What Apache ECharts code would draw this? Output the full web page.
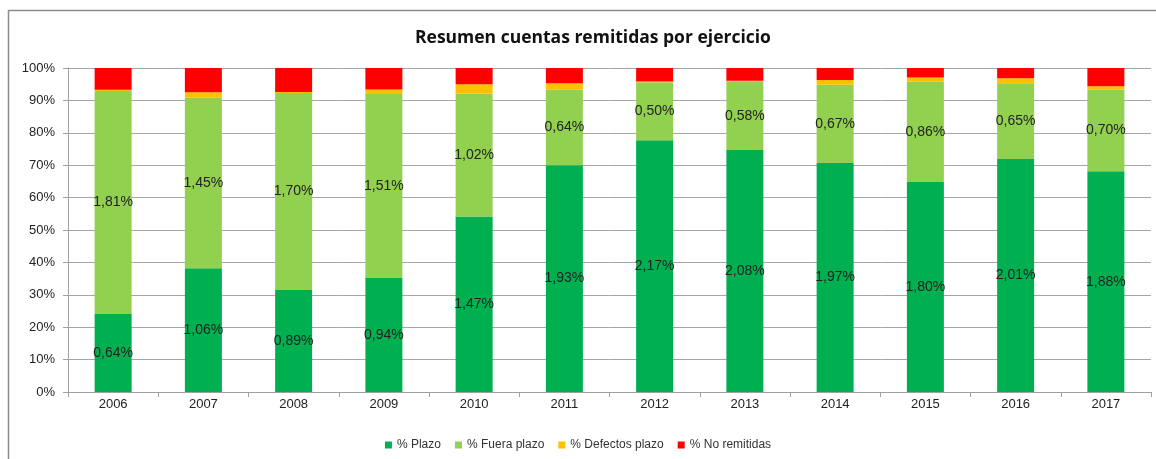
<!DOCTYPE html>
<html><head><meta charset="utf-8">
<script src="https://cdn.jsdelivr.net/npm/echarts@6/dist/echarts.min.js"></script>
<style>html,body{margin:0;padding:0;background:#fff}#c{width:1156px;height:459px}</style>
</head><body><div id="c"></div>
<script>
const years = ['2006','2007','2008','2009','2010','2011','2012','2013','2014','2015','2016','2017'];
const plazo = [24.1, 38.2, 31.5, 35.2, 54.2, 70.0, 77.7, 74.7, 70.7, 64.8, 71.9, 68.1];
const fueraPlazo = [68.8, 52.6, 60.8, 56.8, 37.9, 23.4, 17.9, 21.0, 24.1, 31.0, 23.4, 25.3];
const defectosPlazo = [0.4, 1.7, 0.3, 1.4, 2.9, 1.9, 0.2, 0.4, 1.5, 1.3, 1.5, 1.0];
const noRemitidas = [6.7, 7.5, 7.4, 6.6, 5.0, 4.7, 4.2, 3.9, 3.7, 2.9, 3.2, 5.6];
const plazoLabels = ['0,64%','1,06%','0,89%','0,94%','1,47%','1,93%','2,17%','2,08%','1,97%','1,80%','2,01%','1,88%'];
const fueraLabels = ['1,81%','1,45%','1,70%','1,51%','1,02%','0,64%','0,50%','0,58%','0,67%','0,86%','0,65%','0,70%'];
const yTicks = {min: 0, max: 100, interval: 10};

const FONT = '"Liberation Sans Narrow", "Liberation Sans", sans-serif';
const chart = echarts.init(document.getElementById('c'), null, {renderer: 'canvas'});
function lbl(arr) {
  return {show: true, position: 'inside', color: '#222', fontFamily: FONT, fontSize: 14,
    formatter: p => arr[p.dataIndex]};
}
chart.setOption({
  animation: false,
  backgroundColor: '#fff',
  graphic: [
    {type: 'polyline', shape: {points: [[8.5, 470], [8.5, 10.5], [1170, 10.5]]},
     style: {stroke: '#8c8c8c', lineWidth: 1.5, fill: null}, silent: true}
  ],
  title: {text: 'Resumen cuentas remitidas por ejercicio', left: 410, top: 24,
    textStyle: {fontFamily: '"Open Sans", sans-serif', fontWeight: 'bold', fontSize: 17.5, color: '#111'}},
  legend: {bottom: 3, left: 'center', icon: 'rect', itemWidth: 7, itemHeight: 7, itemGap: 14,
    textStyle: {fontFamily: FONT, fontSize: 12, color: '#333'},
    data: ['% Plazo', '% Fuera plazo', '% Defectos plazo', '% No remitidas']},
  grid: {left: 68, right: 5, top: 68, bottom: 67, containLabel: false},
  xAxis: {type: 'category', data: years, boundaryGap: true,
    axisLine: {lineStyle: {color: '#a0a0a0'}},
    axisTick: {show: true, length: 5, alignWithLabel: false, lineStyle: {color: '#a0a0a0'}},
    axisLabel: {color: '#222', fontFamily: FONT, fontSize: 13, margin: 6}},
  yAxis: {type: 'value', min: yTicks.min, max: yTicks.max, interval: yTicks.interval,
    axisLine: {show: true, lineStyle: {color: '#a0a0a0'}},
    axisTick: {show: true, length: 5, lineStyle: {color: '#a0a0a0'}},
    axisLabel: {formatter: '{value}%', color: '#222', fontFamily: FONT, fontSize: 13, margin: 13},
    splitLine: {lineStyle: {color: '#a6a6a6'}}},
  series: [
    {name: '% Plazo', type: 'bar', stack: 't', data: plazo, barWidth: 37,
     itemStyle: {color: '#00B050'}, label: lbl(plazoLabels)},
    {name: '% Fuera plazo', type: 'bar', stack: 't', data: fueraPlazo, barWidth: 37,
     itemStyle: {color: '#92D050'}, label: lbl(fueraLabels)},
    {name: '% Defectos plazo', type: 'bar', stack: 't', data: defectosPlazo, barWidth: 37,
     itemStyle: {color: '#FFC000'}},
    {name: '% No remitidas', type: 'bar', stack: 't', data: noRemitidas, barWidth: 37,
     itemStyle: {color: '#FF0000'}}
  ]
});
</script></body></html>
